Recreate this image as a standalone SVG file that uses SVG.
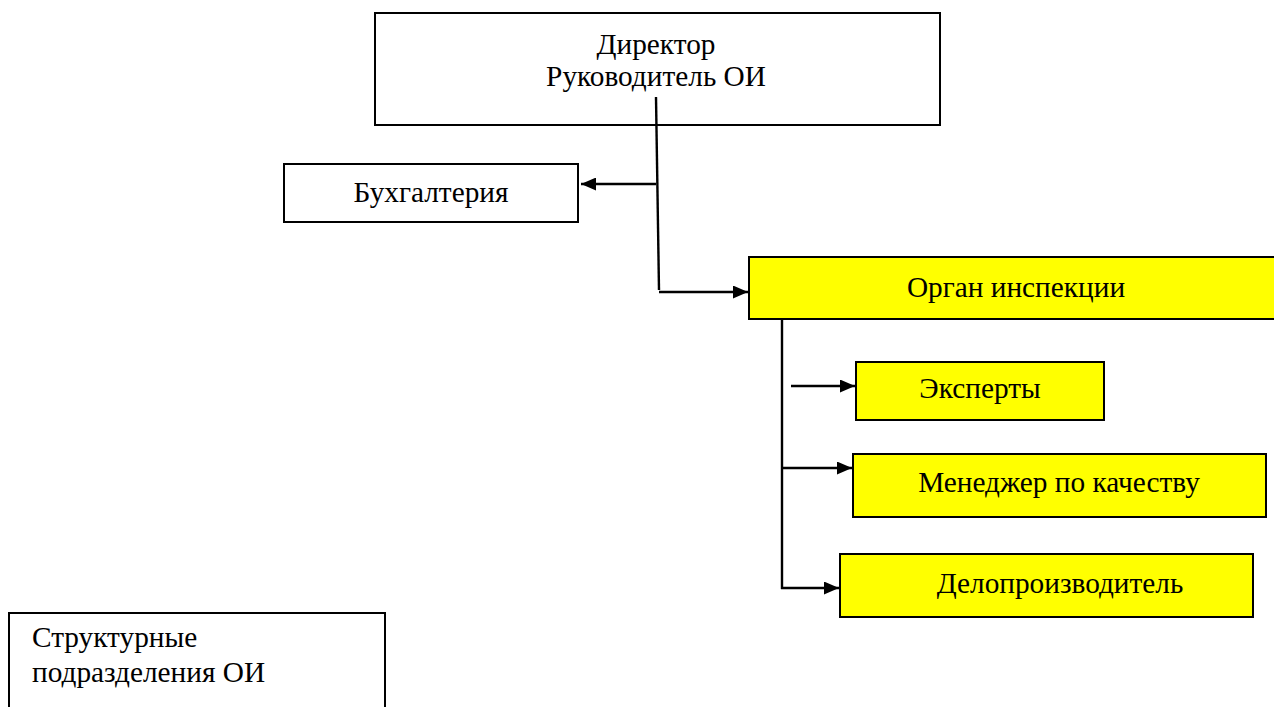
<svg xmlns="http://www.w3.org/2000/svg" width="1274" height="707" viewBox="0 0 1274 707">
<style>
.box{fill:#fff;stroke:#000;stroke-width:2}
.yel{fill:#ffff00;stroke:#000;stroke-width:2}
text{font-family:"Liberation Serif","Times New Roman",serif;font-size:29.3px;fill:#000}
.c{text-anchor:middle}
.ln{stroke:#000;stroke-width:2.4;fill:none}
</style>
<defs>
<marker id="arr" viewBox="0 0 15 13" refX="15" refY="6.5" markerWidth="15" markerHeight="13" orient="auto" markerUnits="userSpaceOnUse">
<path d="M0,0 L15,6.5 L0,13 z" fill="#000"/>
</marker>
</defs>
<g id="director"><rect class="box" x="375" y="13" width="565" height="112"/>
<text class="c" x="656" y="54">Директор</text>
<text class="c" x="656" y="86">Руководитель ОИ</text></g>
<g id="buh"><rect class="box" x="284" y="164" width="294" height="58"/>
<text class="c" x="431" y="202">Бухгалтерия</text></g>
<g id="organ"><rect class="yel" x="749" y="257" width="530" height="62"/>
<text class="c" x="1016" y="297">Орган инспекции</text></g>
<g id="experts"><rect class="yel" x="856" y="362" width="248" height="58"/>
<text class="c" x="980" y="398">Эксперты</text></g>
<g id="manager"><rect class="yel" x="853" y="454" width="413" height="63"/>
<text class="c" x="1059" y="492">Менеджер по качеству</text></g>
<g id="delo"><rect class="yel" x="840" y="554" width="413" height="63"/>
<text class="c" x="1060" y="593">Делопроизводитель</text></g>
<g id="struct"><rect class="box" x="9" y="613" width="376" height="110"/>
<text x="32" y="647">Структурные</text>
<text x="32" y="682">подразделения ОИ</text></g>
<g id="connectors">
<line class="ln" x1="656" y1="97" x2="659" y2="290"/>
<line class="ln" x1="656" y1="184" x2="581" y2="184" marker-end="url(#arr)"/>
<line class="ln" x1="659" y1="292" x2="748" y2="292" marker-end="url(#arr)"/>
<line class="ln" x1="782" y1="319" x2="782" y2="589"/>
<line class="ln" x1="791" y1="386" x2="855" y2="386" marker-end="url(#arr)"/>
<line class="ln" x1="782" y1="468" x2="852" y2="468" marker-end="url(#arr)"/>
<line class="ln" x1="781" y1="588" x2="839" y2="588" marker-end="url(#arr)"/>
</g>
</svg>
